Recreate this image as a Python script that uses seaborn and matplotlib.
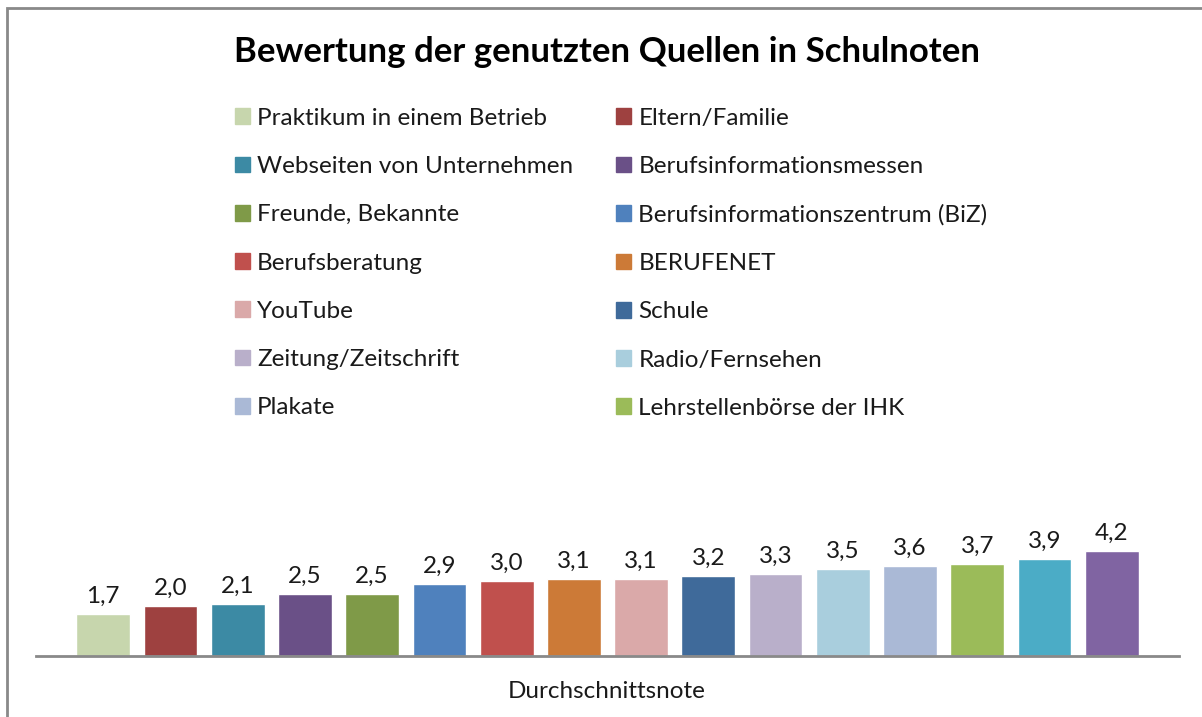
import pandas as pd
import numpy as np
import matplotlib.pyplot as plt
import matplotlib.patches as mpatches
import seaborn as sns

# Quellen (nur 14 stehen in der Legende, die letzten zwei Balken haben keinen Eintrag)
quellen = ["Praktikum in einem Betrieb", "Eltern/Familie",
           "Webseiten von Unternehmen", "Berufsinformationsmessen",
           "Freunde, Bekannte", "Berufsinformationszentrum (BiZ)",
           "Berufsberatung", "BERUFENET",
           "YouTube", "Schule",
           "Zeitung/Zeitschrift", "Radio/Fernsehen",
           "Plakate", "Lehrstellenbörse der IHK"]

noten = [1.7, 2.0, 2.1, 2.5, 2.5, 2.9, 3.0, 3.1, 3.1, 3.2, 3.3, 3.5, 3.6, 3.7, 3.9, 4.2]

farben = ["#C7D6AD", "#9E4140", "#3C8AA4", "#6A5087", "#7F9A48", "#4F81BD",
          "#C0504D", "#CC7A37", "#DAA9A9", "#3F6A9A", "#B9AFCA", "#A9CEDD",
          "#AAB9D6", "#9BBB59", "#4BACC6", "#8064A2"]

df = pd.DataFrame({"id": [str(i) for i in range(len(noten))], "note": noten})

sns.set_style("white")
plt.rcParams['font.family'] = ['Lato', 'DejaVu Sans']

fs = 17.5

fig = plt.figure(figsize=(12.02, 7.17), dpi=100)
ax = fig.add_axes([36 / 1202, 61 / 717, (1179 - 36) / 1202, 200 / 717])

sns.barplot(data=df, x="id", y="note", hue="id",
            palette=dict(zip(df["id"], farben)), width=0.8,
            saturation=1, legend=False, ax=ax)

for c in ax.containers:
    ax.bar_label(c, fmt=lambda v: f"{v:.1f}".replace(".", ","),
                 padding=5, fontsize=fs, color="#1a1a1a")

ax.set_xlim(-1, 16)
ax.set_ylim(0, 8)
ax.set_xticks([])
ax.set_yticks([])
ax.set_xlabel("")
ax.set_ylabel("")
for s in ["top", "right", "left"]:
    ax.spines[s].set_visible(False)
ax.spines["bottom"].set_color("#898989")
ax.spines["bottom"].set_linewidth(2)

fig.text(607 / 1202, 1 - 52 / 717, "Bewertung der genutzten Quellen in Schulnoten",
         ha="center", va="center", fontsize=25, fontweight="bold", color="black")
fig.text(607 / 1202, 1 - 692 / 717, "Durchschnittsnote",
         ha="center", va="center", fontsize=fs, color="#1a1a1a")

# Legende zeilenweise (2 Spalten)
handles = [mpatches.Patch(color=farben[i], label=quellen[i]) for i in range(len(quellen))]
order = list(range(0, 14, 2)) + list(range(1, 14, 2))
fig.legend([handles[i] for i in order], [quellen[i] for i in order],
           ncol=2, loc="upper left", bbox_to_anchor=(213 / 1202, 1 - 86 / 717),
           frameon=False, fontsize=fs, handlelength=0.62, handleheight=0.62,
           handletextpad=0.3, labelspacing=1.12, columnspacing=1.75,
           labelcolor="#1a1a1a")

fig.patches.append(mpatches.Rectangle((7 / 1202, -0.1), 1.2, 1.1 - 8 / 717,
                                      transform=fig.transFigure, fill=False,
                                      edgecolor="#898989", linewidth=2))

plt.savefig("out.png", dpi=100)
